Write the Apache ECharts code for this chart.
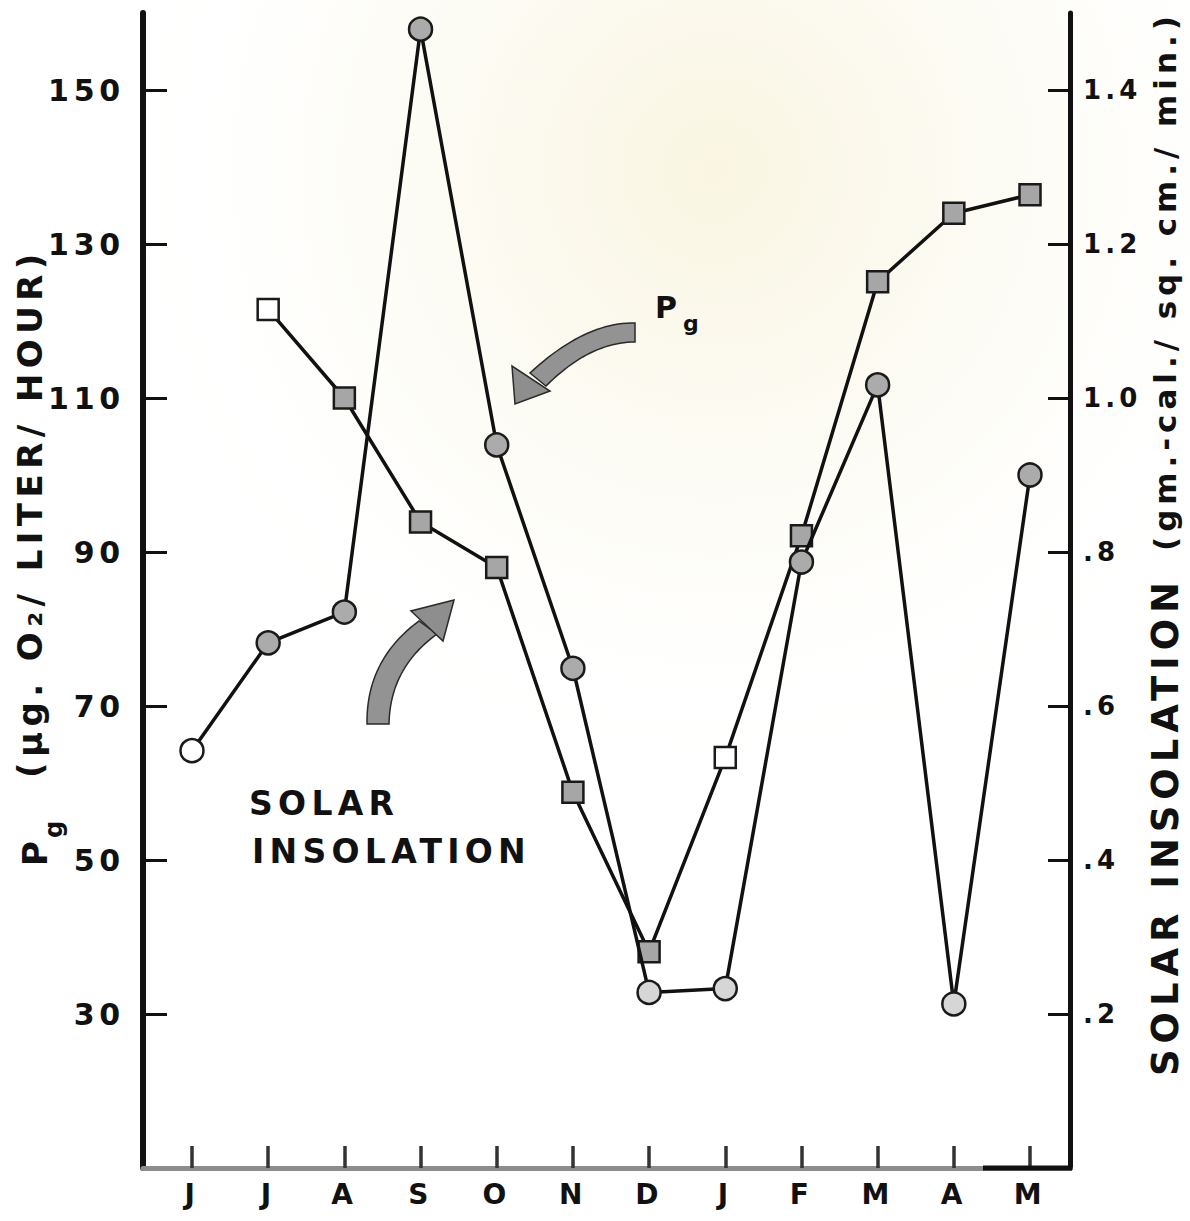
<!DOCTYPE html>
<html>
<head>
<meta charset="utf-8">
<script src="https://cdn.jsdelivr.net/npm/echarts@6/dist/echarts.min.js"></script>
<style>
  html, body { margin: 0; padding: 0; background: #ffffff; }
  #chart { width: 1190px; height: 1221px; }
  /* hand-lettered look: wide letter spacing on every label */
  #chart text { letter-spacing: 0.16em; }
</style>
</head>
<body>
<div id="chart"></div>
<script>
// Months, June through May
const months = ['J', 'J', 'A', 'S', 'O', 'N', 'D', 'J', 'F', 'M', 'A', 'M'];
const monthIndex = months.map((m, i) => i);

// Gross production Pg (µg O2 / liter / hour), left axis
const pgValues = [64.2, 78.2, 82.2, 157.9, 103.9, 74.9, 32.8, 33.3, 88.7, 111.7, 31.3, 100.0];
// Solar insolation (gm-cal / sq cm / min), right axis; no reading for the first June
const solarValues = [null, 1.115, 1.0, 0.839, 0.78, 0.488, 0.281, 0.533, 0.821, 1.151, 1.24, 1.264];

// Points drawn with open (white) markers, and Pg points with pale fill
const pgOpen = [0];
const pgPale = [6, 7, 10];
const solarOpen = [1, 7];

// Axis ticks
const pgTicks = [30, 50, 70, 90, 110, 130, 150];
const solarTicks = [0.2, 0.4, 0.6, 0.8, 1.0, 1.2, 1.4];
const solarTickLabels = ['.2', '.4', '.6', '.8', '1.0', '1.2', '1.4'];

const FONT = '"DejaVu Sans", "Liberation Sans", sans-serif';
const INK = '#111111';

const chart = echarts.init(document.getElementById('chart'), null, { renderer: 'svg' });

const pgData = pgValues.map((v, i) => ({
  value: [i, v],
  itemStyle: {
    color: pgOpen.includes(i) ? '#ffffff' : (pgPale.includes(i) ? '#d6d6d6' : '#ababab')
  }
}));

const solarData = [];
solarValues.forEach((v, i) => {
  if (v === null) return;
  solarData.push({
    value: [i, v],
    itemStyle: { color: solarOpen.includes(i) ? '#ffffff' : '#a6a6a6' }
  });
});

// faint yellowed paper tone, strongest upper right of centre
const haze = new echarts.graphic.RadialGradient(0.6, 0.14, 0.5, [
  { offset: 0, color: 'rgba(243, 236, 196, 0.5)' },
  { offset: 0.55, color: 'rgba(246, 241, 212, 0.22)' },
  { offset: 1, color: 'rgba(255, 255, 255, 0)' }
]);

// sample a quadratic Bezier curve into points
function quad(p0, c, p1, n) {
  const pts = [];
  for (let k = 0; k <= n; k++) {
    const t = k / n, u = 1 - t;
    pts.push([u * u * p0[0] + 2 * u * t * c[0] + t * t * p1[0],
              u * u * p0[1] + 2 * u * t * c[1] + t * t * p1[1]]);
  }
  return pts;
}

// thick curved arrow body: outer edge then inner edge back
function arrowBody(a0, ac, a1, b0, bc, b1) {
  return quad(a0, ac, a1, 24).concat(quad(b0, bc, b1, 24));
}

function shape(points, fill) {
  return {
    type: 'polygon',
    silent: true,
    z: 5,
    shape: { points: points },
    style: { fill: fill, stroke: '#2a2a2a', lineWidth: 1.5 }
  };
}

function label(text, x, y, size, opts) {
  return Object.assign({
    type: 'text',
    x: x,
    y: y,
    silent: true,
    z: 10,
    style: {
      text: text,
      fontSize: size,
      fontWeight: 'bold',
      fontFamily: FONT,
      fill: INK,
      align: 'left',
      verticalAlign: 'middle'
    }
  }, opts || {});
}

const option = {
  backgroundColor: '#ffffff',
  animation: false,
  grid: { left: 143, right: 120, top: 13, bottom: 53, containLabel: false },
  xAxis: {
    type: 'value',
    min: -0.643,
    max: 11.525,
    axisLine: { show: true, onZero: false, lineStyle: { color: '#8d8d8d', width: 5 } },
    axisTick: {
      show: true, inside: true, length: 22,
      customValues: monthIndex,
      lineStyle: { color: '#333333', width: 3.5 }
    },
    axisLabel: {
      customValues: monthIndex,
      formatter: v => months[Math.round(v)],
      margin: 12,
      fontSize: 28,
      fontWeight: 'bold',
      fontFamily: FONT,
      color: INK
    },
    splitLine: { show: false }
  },
  yAxis: [
    {
      type: 'value',
      position: 'left',
      min: 10,
      max: 160,
      axisLine: { show: true, onZero: false, lineStyle: { color: INK, width: 6 } },
      axisTick: {
        show: true, inside: true, length: 24,
        customValues: pgTicks,
        lineStyle: { color: INK, width: 3 }
      },
      axisLabel: {
        customValues: pgTicks,
        margin: 18,
        fontSize: 30,
        fontWeight: 'bold',
        fontFamily: FONT,
        color: INK
      },
      splitLine: { show: false }
    },
    {
      type: 'value',
      position: 'right',
      min: 0,
      max: 1.5,
      axisLine: { show: true, onZero: false, lineStyle: { color: INK, width: 5 } },
      axisTick: {
        show: true, inside: true, length: 22,
        customValues: solarTicks,
        lineStyle: { color: INK, width: 3 }
      },
      axisLabel: {
        customValues: solarTicks,
        formatter: v => {
          const k = solarTicks.findIndex(t => Math.abs(t - v) < 1e-6);
          return k >= 0 ? solarTickLabels[k] : '';
        },
        margin: 13,
        fontSize: 26,
        fontWeight: 'bold',
        fontFamily: FONT,
        color: INK
      },
      splitLine: { show: false }
    }
  ],
  series: [
    {
      name: 'Solar insolation',
      type: 'line',
      yAxisIndex: 1,
      data: solarData,
      symbol: 'rect',
      symbolSize: 21,
      lineStyle: { color: INK, width: 3.5 },
      itemStyle: { borderColor: '#1a1a1a', borderWidth: 2.5 },
      z: 3
    },
    {
      name: 'Pg',
      type: 'line',
      yAxisIndex: 0,
      data: pgData,
      symbol: 'circle',
      symbolSize: 23,
      lineStyle: { color: INK, width: 3.5 },
      itemStyle: { borderColor: '#1a1a1a', borderWidth: 2.5 },
      z: 4
    }
  ],
  graphic: [
    {
      type: 'rect',
      silent: true,
      z: -10,
      shape: { x: 0, y: 0, width: 1190, height: 1221 },
      style: { fill: haze }
    },
    // dark right end of the base line
    {
      type: 'line',
      silent: true,
      z: 6,
      shape: { x1: 983, y1: 1168, x2: 1072, y2: 1168 },
      style: { stroke: INK, lineWidth: 5 }
    },
    // curved arrow pointing at the Pg curve
    shape(arrowBody([635, 323], [585, 322], [530, 373], [546, 386], [590, 342], [635, 342]), '#939393'),
    shape([[515, 404], [512, 366], [550, 391]], '#8e8e8e'),
    // curved arrow pointing at the solar insolation curve
    shape(arrowBody([367, 724], [366, 660], [419, 621], [437, 634], [390, 668], [389, 724]), '#939393'),
    shape([[454, 600], [411, 611], [443, 641]], '#8e8e8e'),
    // in-plot labels
    label('P', 655, 307, 30),
    label('g', 683, 323, 22),
    label('SOLAR', 249, 803, 33),
    label('INSOLATION', 252, 851, 33),
    // left axis title, read bottom to top
    label('P', 35, 866, 34, { rotation: Math.PI / 2 }),
    label('g', 54, 838, 24, { rotation: Math.PI / 2 }),
    label('(μg. O\u2082/ LITER/ HOUR)', 30, 778, 34, { rotation: Math.PI / 2 }),
    // right axis title, read bottom to top
    label('SOLAR INSOLATION', 1165, 1076, 37, { rotation: Math.PI / 2 }),
    label('(gm.-cal./ sq. cm./ min.)', 1165, 551, 31, { rotation: Math.PI / 2 })
  ]
};

chart.setOption(option);
</script>
</body>
</html>
